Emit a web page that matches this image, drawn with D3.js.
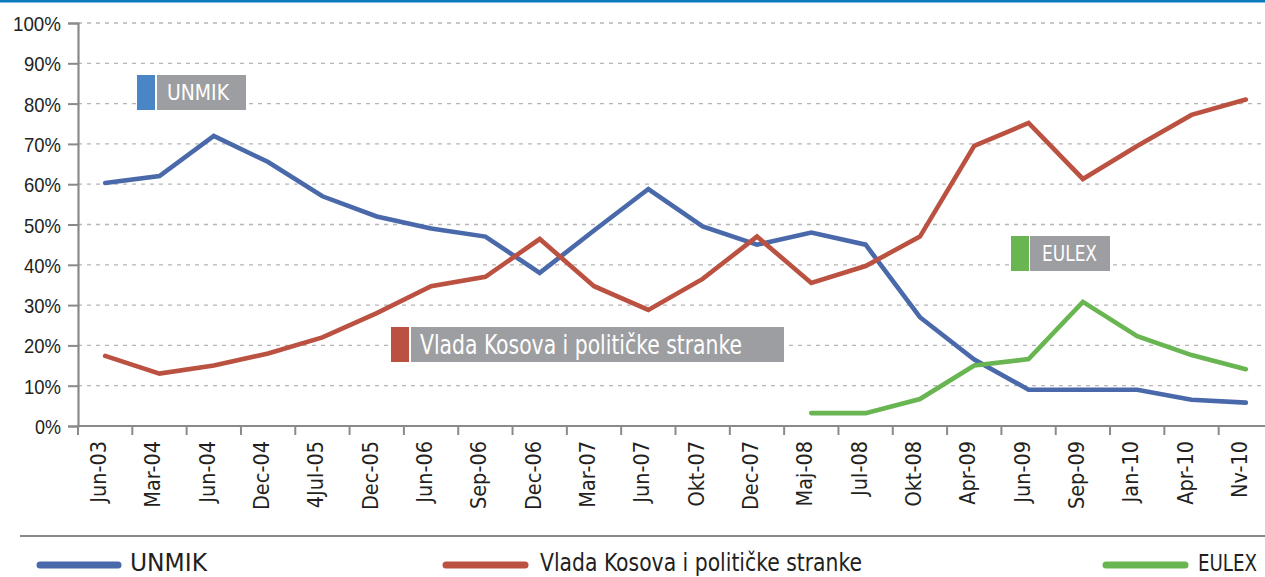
<!DOCTYPE html>
<html><head><meta charset="utf-8">
<script src="https://cdn.jsdelivr.net/npm/d3@7"></script>
<style>
body{margin:0;background:#fff;}
svg{display:block;font-family:"DejaVu Sans Condensed","Liberation Sans Narrow","DejaVu Sans",sans-serif;}
</style></head>
<body>
<svg id="c" width="1265" height="577"></svg>
<script>
const categories = ["Jun-03","Mar-04","Jun-04","Dec-04","4Jul-05","Dec-05","Jun-06","Sep-06","Dec-06","Mar-07","Jun-07","Okt-07","Dec-07","Maj-08","Jul-08","Okt-08","Apr-09","Jun-09","Sep-09","Jan-10","Apr-10","Nv-10"];
const unmik = [60.3,62,72,65.5,57,52,49,47,38,48.5,58.8,49.5,45,48,45,27,16.5,9,9,9,6.5,5.8];
const vlada = [17.4,13,15,18,22,28,34.7,37,46.4,34.7,28.8,36.5,47,35.5,39.7,47,69.5,75.2,61.3,69.5,77.2,81];
const eulex = [null,null,null,null,null,null,null,null,null,null,null,null,null,3.2,3.2,6.7,15,16.6,30.8,22.3,17.6,14.1];
const yTicks = [0,10,20,30,40,50,60,70,80,90,100];
const seriesNames = ["UNMIK","Vlada Kosova i političke stranke","EULEX"];

const colors = ["#4a69ab","#bb5241","#69b552"];
const boxColors = ["#4a85c6","#bb5241","#69b552"];

const svg = d3.select("#c");
const W = 1265;
const x0 = 78, x1 = 1273, yTop = 23, yBot = 426;
const x = d3.scaleBand().domain(categories).range([x0, x1]);
const y = d3.scaleLinear().domain([0,100]).range([yBot, yTop]);

// top blue rule
svg.append("rect").attr("x",0).attr("y",0).attr("width",W).attr("height",2.5).attr("fill","#0b7bc0");

// gridlines
svg.append("g").selectAll("line").data(yTicks.filter(d=>d>0)).join("line")
  .attr("x1", x0).attr("x2", W).attr("y1", d=>y(d)).attr("y2", d=>y(d))
  .attr("stroke","#b5b5b5").attr("stroke-width",1.3).attr("stroke-dasharray","4,5");

// y axis
const yAxis = d3.axisLeft(y).tickValues(yTicks).tickFormat(d=>d+"%").tickSize(10).tickPadding(7);
const gy = svg.append("g").attr("transform",`translate(${x0},0)`).call(yAxis);
gy.select(".domain").attr("stroke","#8a8a8a").attr("stroke-width",2.2);
gy.selectAll(".tick line").attr("stroke","#8a8a8a").attr("stroke-width",2);
gy.selectAll("text").attr("font-size",21).attr("fill","#231f20").attr("font-family","inherit")
  .attr("dy","0.36em")
  .each(function(d){ const n = String(d).length; d3.select(this).attr("textLength", n===3?48:(n===2?37:26)).attr("lengthAdjust","spacingAndGlyphs"); });

// x axis line and ticks
svg.append("line").attr("x1",x0-1).attr("x2",W).attr("y1",yBot).attr("y2",yBot)
  .attr("stroke","#8a8a8a").attr("stroke-width",2.2);
const bounds = categories.map(c=>x(c)).concat([x1]);
svg.append("g").selectAll("line").data(bounds).join("line")
  .attr("x1",d=>d).attr("x2",d=>d).attr("y1",yBot).attr("y2",yBot+9)
  .attr("stroke","#8a8a8a").attr("stroke-width",2);
svg.append("g").selectAll("text").data(categories).join("text")
  .attr("transform",d=>`translate(${x(d)+x.bandwidth()/2+1},${yBot+15}) rotate(-90)`)
  .attr("text-anchor","end").attr("font-size",21.5).attr("fill","#231f20").text(d=>d);

// bottom rule
svg.append("line").attr("x1",20).attr("x2",W).attr("y1",536).attr("y2",536)
  .attr("stroke","#8a8a8a").attr("stroke-width",2);

// lines
const cx = c => x(c) + x.bandwidth()/2;
const line = d3.line().defined(d=>d.v!=null).x(d=>cx(d.c)).y(d=>y(d.v));
[unmik, vlada, eulex].forEach((arr,i)=>{
  svg.append("path").datum(arr.map((v,j)=>({c:categories[j],v})))
    .attr("d",line).attr("fill","none").attr("stroke",colors[i])
    .attr("stroke-width",4.6).attr("stroke-linejoin","miter").attr("stroke-linecap","round");
});

// in-chart labels
const labels = [
  {sx:137, y:75, gx:157, gw:89, tx:167, fs:22, tw:62},
  {sx:391, y:327, gx:411, gw:373, tx:420, fs:26, tw:322},
  {sx:1011, y:236, gx:1030, gw:80, tx:1042, fs:21.5, tw:55}
];
labels.forEach((l,i)=>{
  svg.append("rect").attr("x",l.sx).attr("y",l.y).attr("width",18).attr("height",35).attr("fill",boxColors[i]);
  svg.append("rect").attr("x",l.gx).attr("y",l.y).attr("width",l.gw).attr("height",35).attr("fill","#9d9ea1");
  svg.append("text").attr("x",l.tx).attr("y",l.y+17.5).attr("dy","0.36em").attr("font-size",l.fs).attr("fill","#fff")
    .attr("textLength",l.tw).attr("lengthAdjust","spacingAndGlyphs").text(seriesNames[i]);
});

// legend
const leg = [{x1:40,x2:118,tx:130,tw:77,fs:24},{x1:446,x2:525,tx:540,tw:322,fs:24},{x1:1106,x2:1185,tx:1198,tw:59,fs:22.5}];
leg.forEach((l,i)=>{
  svg.append("line").attr("x1",l.x1).attr("x2",l.x2).attr("y1",565).attr("y2",565)
    .attr("stroke",colors[i]).attr("stroke-width",7).attr("stroke-linecap","round");
  svg.append("text").attr("x",l.tx).attr("y",571).attr("font-size",l.fs).attr("fill","#231f20")
    .attr("textLength",l.tw).attr("lengthAdjust","spacingAndGlyphs").text(seriesNames[i]);
});
</script>
</body></html>
